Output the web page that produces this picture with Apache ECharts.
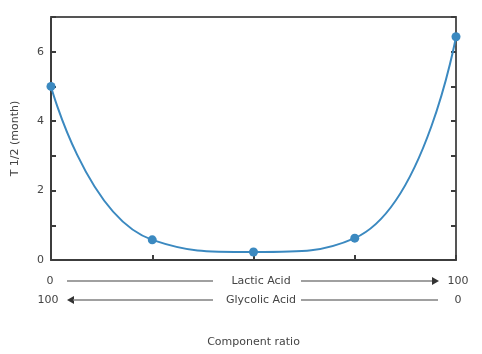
<!DOCTYPE html>
<html>
<head>
<meta charset="utf-8">
<script src="https://cdn.jsdelivr.net/npm/echarts@6/dist/echarts.min.js"></script>
<style>
  html, body { margin: 0; padding: 0; background: #fff; }
  #main { width: 482px; height: 354px; }
</style>
</head>
<body>
<div id="main"></div>
<script>
var chart = echarts.init(document.getElementById('main'));

// component ratio (% lactic acid) and half-life in months
var ratio = [0, 25, 50, 75, 100];
var halfLife = [5.0, 0.58, 0.23, 0.63, 6.43];
var yTicks = [0, 2, 4, 6];

var font = 'DejaVu Sans, Verdana, sans-serif';
var textColor = '#444';
var axisColor = '#3c3c3c';
var arrowColor = '#808080';

function label(x, y, text) {
  return {
    type: 'text', x: x, y: y,
    style: { text: text, fill: textColor, font: '11px ' + font, align: 'center', verticalAlign: 'middle' }
  };
}
function rule(x1, x2, y) {
  return { type: 'line', shape: { x1: x1, y1: y, x2: x2, y2: y }, style: { stroke: arrowColor, lineWidth: 1.5 } };
}
function head(x, y, dir) {
  return {
    type: 'polygon',
    shape: { points: [[x, y], [x - dir * 7, y - 4], [x - dir * 7, y + 4]] },
    style: { fill: '#333' }
  };
}

chart.setOption({
  animation: false,
  grid: { left: 51, right: 26, top: 17, bottom: 94, outerBoundsMode: 'none' },
  xAxis: [
    {
      type: 'value', min: 0, max: 100, interval: 25,
      name: 'Component ratio', nameLocation: 'middle', nameGap: 77,
      nameTextStyle: { color: textColor, fontFamily: font, fontSize: 11 },
      axisLine: { onZero: false, lineStyle: { color: axisColor, width: 2 } },
      axisTick: { inside: true, length: 5, lineStyle: { color: axisColor, width: 2 } },
      axisLabel: { show: false },
      splitLine: { show: false }
    },
    {
      type: 'value', position: 'top', min: 0, max: 100,
      axisLine: { show: true, onZero: false, lineStyle: { color: '#555', width: 2 } },
      axisTick: { show: false }, axisLabel: { show: false }, splitLine: { show: false }
    }
  ],
  yAxis: [
    {
      type: 'value', min: 0, max: 7, interval: 1,
      name: 'T 1/2 (month)', nameLocation: 'middle', nameGap: 30,
      nameTextStyle: { color: textColor, fontFamily: font, fontSize: 11 },
      axisLine: { show: true, onZero: false, lineStyle: { color: axisColor, width: 2 } },
      axisTick: { inside: true, length: 5, lineStyle: { color: axisColor, width: 2 } },
      axisLabel: {
        color: textColor, fontFamily: font, fontSize: 11, margin: 7,
        formatter: function (v) { return yTicks.indexOf(v) >= 0 ? String(v) : ''; }
      },
      splitLine: { show: false }
    },
    {
      type: 'value', position: 'right', min: 0, max: 7, interval: 1,
      axisLine: { show: true, onZero: false, lineStyle: { color: '#555', width: 2 } },
      axisTick: { inside: true, length: 5, lineStyle: { color: axisColor, width: 2 } },
      axisLabel: { show: false }, splitLine: { show: false }
    }
  ],
  series: [{
    type: 'line',
    data: ratio.map(function (r, i) { return [r, halfLife[i]]; }),
    smooth: 0.5,
    symbol: 'circle',
    symbolSize: 9,
    lineStyle: { color: '#3b89c0', width: 2 },
    itemStyle: { color: '#3b89c0' },
    clip: false
  }],
  graphic: [
    label(50, 281, '0'), rule(67, 213, 281),
    label(261, 281, 'Lactic Acid'), rule(301, 432, 281), head(439, 281, 1),
    label(458, 281, '100'),
    label(48, 300, '100'), head(67, 300, -1), rule(73, 213, 300),
    label(261, 300, 'Glycolic Acid'), rule(301, 438, 300),
    label(458, 300, '0')
  ]
});
</script>
</body>
</html>
